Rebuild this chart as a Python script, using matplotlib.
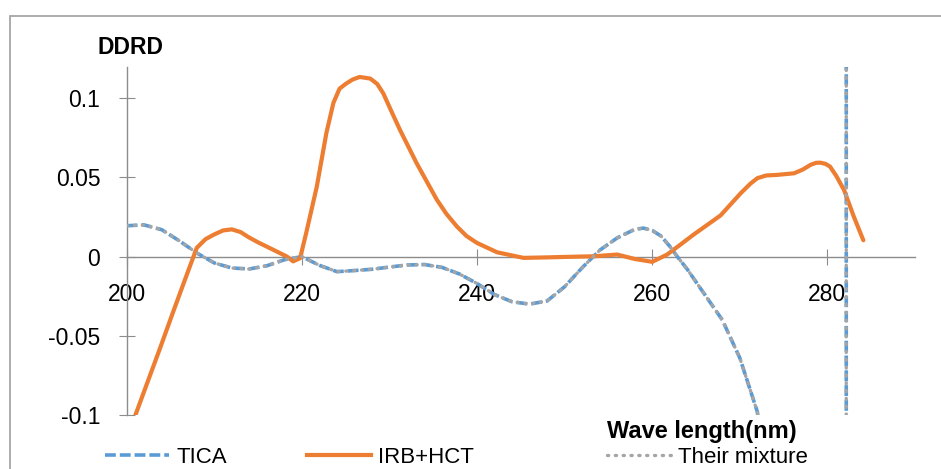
import matplotlib
matplotlib.use("Agg")
import matplotlib.pyplot as plt
from matplotlib.lines import Line2D
from matplotlib.patches import Rectangle

plt.rcParams['font.family'] = ['Liberation Sans', 'DejaVu Sans']

# TICA (the mixture curve lies exactly on it)
tica_x = [200, 202, 204, 206, 208, 210, 212, 214, 216, 218, 220, 222, 224, 226,
          228, 230, 232, 234, 236, 238, 240, 242, 244, 246, 248, 250, 252, 254,
          256, 258, 259, 260, 261, 262, 263, 264, 266, 268, 270, 272, 274, 276,
          278, 280, 282, 282.3, 284]
tica_y = [0.0195, 0.020, 0.017, 0.010, 0.0023, -0.004, -0.0072, -0.0078, -0.0058,
          -0.002, 0.0, -0.0055, -0.0095, -0.0088, -0.008, -0.0066, -0.0053, -0.005,
          -0.0068, -0.011, -0.017, -0.024, -0.0285, -0.030, -0.028, -0.019, -0.007,
          0.004, 0.0118, 0.0172, 0.018, 0.0165, 0.013, 0.0065, -0.001, -0.008,
          -0.024, -0.040, -0.064, -0.098, -0.2, -0.4, -0.8, -2.0, -20, 20, 5]

# IRB+HCT
irb_x = [201, 202, 203.8, 205.3, 206.8, 208, 209, 210, 211, 212, 213, 214, 215,
         216.7, 218.3, 219, 219.8, 220.5, 221.7, 222.8, 223.6, 224.3, 225, 225.8,
         226.6, 227.8, 228.6, 229.3, 230.2, 231.2, 233.1, 235.4, 236.5, 237.7,
         238.8, 240, 242.3, 245.3, 248, 250, 253.3, 256, 258, 260, 261.7, 263.2,
         264.7, 267.8, 270.1, 271.2, 272, 273, 274.3, 276.2, 277.2, 278.1, 278.7,
         279.2, 279.8, 280.3, 281, 281.9, 283, 284.1]
irb_y = [-0.1, -0.085, -0.058, -0.035, -0.0124, 0.0055, 0.011, 0.014, 0.0165, 0.0172,
         0.0155, 0.012, 0.009, 0.0044, 0.0, -0.003, -0.001, 0.015, 0.044, 0.078,
         0.097, 0.106, 0.109, 0.1118, 0.1134, 0.1124, 0.109, 0.103, 0.092, 0.080,
         0.059, 0.036, 0.027, 0.019, 0.013, 0.0086, 0.0027, -0.0008, -0.0005,
         -0.0002, 0.0002, 0.0013, -0.0015, -0.0033, 0.0013, 0.0075, 0.0138, 0.026,
         0.040, 0.046, 0.0495, 0.0512, 0.0516, 0.0526, 0.055, 0.058, 0.0592, 0.0593,
         0.0585, 0.0568, 0.051, 0.042, 0.0254, 0.0103]

mix_x = tica_x
mix_y = tica_y

xticks = [200, 220, 240, 260, 280]
yticks = [-0.1, -0.05, 0, 0.05, 0.1]
ytick_labels = ['-0.1', '-0.05', '0', '0.05', '0.1']

blue = '#5B9BD5'
orange = '#ED7D31'
grey = '#A5A5A5'
axis_col = '#8C8C8C'
tica_dash = (3.0, 1.1)
mix_dash = (0.35, 2.0)

fig = plt.figure(figsize=(9.41, 4.69), dpi=100)
ax = fig.add_axes([0.1346, 0.1151, 0.8378, 0.7431])

l1, = ax.plot(tica_x, tica_y, color=blue, lw=2.6, dashes=tica_dash, zorder=3)
l2, = ax.plot(irb_x, irb_y, color=orange, lw=3.0, solid_capstyle='round',
              solid_joinstyle='round', zorder=4)
l3, = ax.plot(mix_x, mix_y, color=grey, lw=2.4, dashes=mix_dash,
              dash_capstyle='round', zorder=5)

ax.set_xlim(200, 290)
ax.set_ylim(-0.1, 0.12)

for s in ['top', 'right']:
    ax.spines[s].set_visible(False)
ax.spines['bottom'].set_position(('data', 0))
for s in ['left', 'bottom']:
    ax.spines[s].set_color(axis_col)
    ax.spines[s].set_linewidth(1)

ax.set_xticks(xticks)
ax.set_yticks(yticks)
ax.set_yticklabels(ytick_labels)
ax.tick_params(direction='inout', length=12, width=0.8, color=axis_col,
               labelsize=16.5, pad=13)

fig.text(0.139, 0.898, 'DDRD', fontsize=16.5, fontweight='bold',
         ha='center', va='center')
fig.text(0.746, 0.081, 'Wave length(nm)', fontsize=17, fontweight='bold',
         ha='center', va='center')

# outer chart frame
fig.patches.append(Rectangle((10 / 941, -0.5), 2, 1.5 - 16 / 469, fill=False,
                             ec='#A6A6A6', lw=1.3, transform=fig.transFigure))

# legend entries spread along the bottom
for line, name, x0 in [(l1, 'TICA', 105), (l2, 'IRB+HCT', 307), (l3, 'Their mixture', 607)]:
    h = Line2D([], [], color=line.get_color(), lw=line.get_linewidth())
    if name == 'TICA':
        h.set_dashes(tica_dash)
    elif name == 'Their mixture':
        h.set_dashes(mix_dash)
        h.set_dash_capstyle('round')
    fig.legend(handles=[h], labels=[name], loc='center left',
               bbox_to_anchor=(x0 / 941, 1 - 457 / 469), frameon=False,
               fontsize=16, handlelength=2.9, handletextpad=0.3,
               borderpad=0, borderaxespad=0)

fig.savefig('out.png', dpi=100)
